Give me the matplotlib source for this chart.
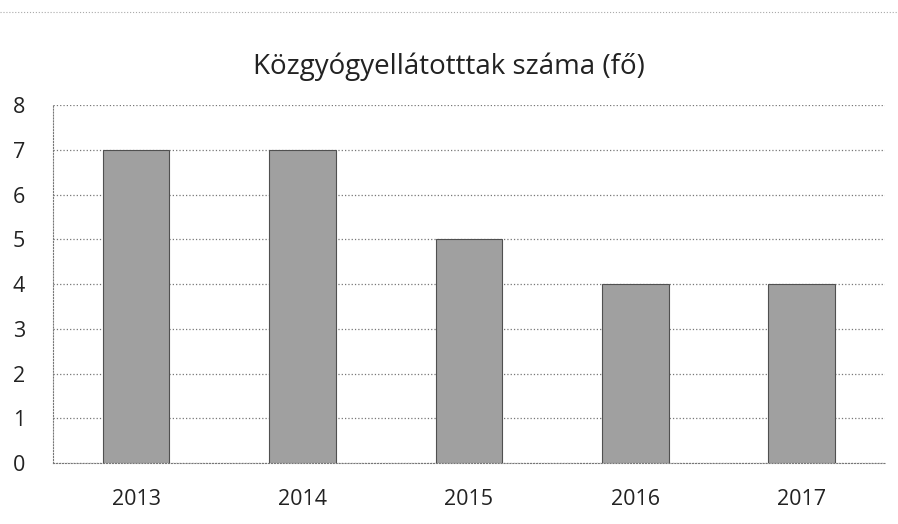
import numpy as np
import matplotlib.pyplot as plt

years = ['2013', '2014', '2015', '2016', '2017']
values = [7, 7, 5, 4, 4]

fig = plt.figure(figsize=(8.98, 5.24), dpi=100)
ax = fig.add_axes([0.059, 0.1164, 0.9265, 0.6832])

x = np.arange(len(years))
ax.bar(x, values, width=0.4, color='#a0a0a0', edgecolor='#505050',
       linewidth=0.8, zorder=3)

ax.set_xlim(-0.5, len(years) - 0.5)
ax.set_ylim(0, 8)
ax.set_yticks(range(0, 9))
ax.set_xticks(x)
ax.set_xticklabels(years)
ax.yaxis.grid(True, linestyle=':', color='#777777', linewidth=0.9, zorder=0)
for side in ['top', 'right']:
    ax.spines[side].set_visible(False)
ax.spines['bottom'].set_linestyle(':')
ax.spines['bottom'].set_color('#777777')
ax.spines['left'].set_linestyle(':')
ax.spines['left'].set_color('#777777')
ax.tick_params(axis='both', length=0, labelsize=15.5, colors='#222222')
ax.tick_params(axis='x', pad=19)
ax.tick_params(axis='y', pad=20)
for lbl in ax.get_xticklabels() + ax.get_yticklabels():
    lbl.set_family('Open Sans')

fig.text(0.5, 0.872, 'Közgyógyellátotttak száma (fő)', ha='center', va='center',
         fontsize=20, family='Open Sans', color='#222222')
fig.add_artist(plt.Line2D([0.0, 1.0], [0.977, 0.977], transform=fig.transFigure,
                          linestyle=':', color='#aaaaaa', linewidth=0.8))

fig.savefig('out.png', dpi=100)
